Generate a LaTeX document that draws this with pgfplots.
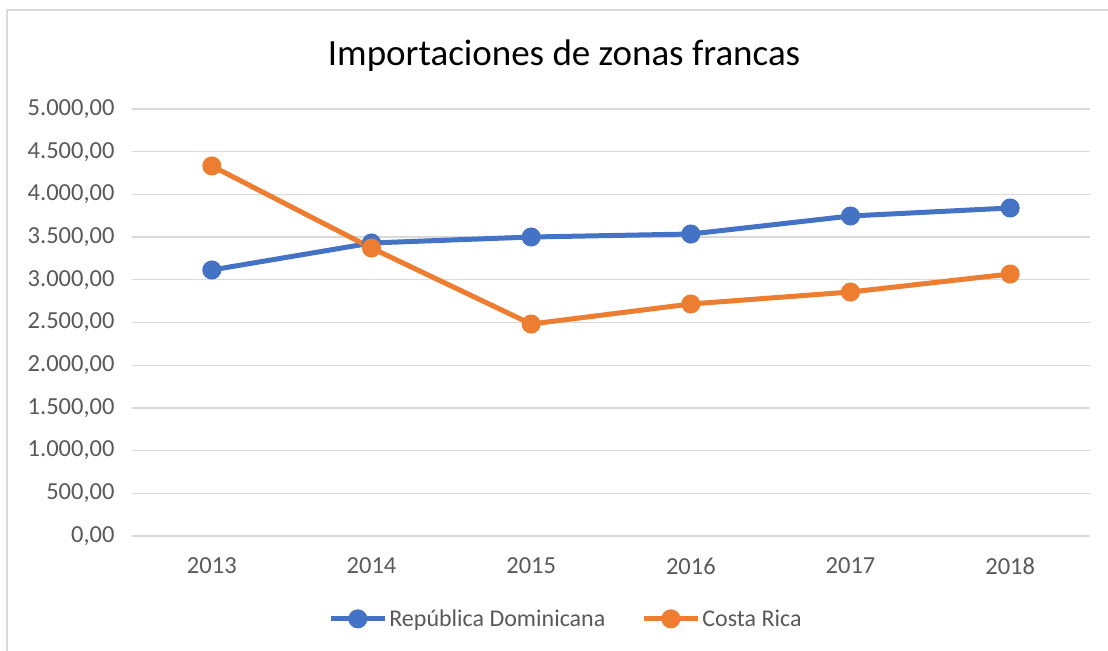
\documentclass[border=0pt]{standalone}
\usepackage{pgfplots}
\pgfplotsset{compat=1.18}
\usepackage{fontspec}
\setmainfont{Carlito}

\definecolor{rdblue}{HTML}{4472C4}
\definecolor{crorange}{HTML}{ED7D31}
\definecolor{txtgray}{HTML}{595959}
\definecolor{gridgray}{HTML}{D9D9D9}

\begin{document}
\begin{tikzpicture}
\useasboundingbox (0,0) rectangle (1108bp,651bp);
\draw[gridgray, line width=1.5bp] (7bp,0) -- (7bp,641bp) -- (1108bp,641bp);
\begin{axis}[
    at={(132bp,115bp)}, anchor=south west,
    width=958bp, height=427bp, scale only axis,
    xmin=-0.5, xmax=5.5,
    ymin=0, ymax=5000,
    xtick={0,...,5},
    xticklabels={2013,2014,2015,2016,2017,2018},
    ytick={0,500,...,5000},
    axis line style={draw=none},
    major tick length=0pt,
    ymajorgrids=true,
    grid style={gridgray, line width=1.3bp},
    tick label style={font=\fontsize{24.5bp}{28bp}\selectfont, text=txtgray},
    yticklabel style={xshift=-14bp},
    xticklabel style={yshift=-18bp},
    /pgf/number format/.cd, fixed, fixed zerofill, precision=2, use comma, 1000 sep={.}, assume math mode=true,
    /pgfplots/.cd,
    title={Importaciones de zonas francas},
    title style={at={(0.451,1)}, anchor=center, yshift=47bp,
        font=\fontsize{37bp}{42bp}\selectfont},
    legend columns=2,
    legend style={at={(0.453,-0.194)}, anchor=center, draw=none,
        font=\fontsize{24bp}{28bp}\selectfont, text=txtgray,
        /tikz/every even column/.append style={column sep=34bp}},
    legend image code/.code={
        \draw[#1, mark repeat=2, mark phase=2] plot coordinates {(0bp,0bp) (27bp,0bp) (54bp,0bp)};
    },
    every axis plot/.append style={line width=5bp, mark=*, mark size=7bp},
]
\addplot[rdblue, mark options={fill=rdblue, draw=rdblue}] coordinates {
    (0,3115) (1,3431) (2,3501) (3,3536) (4,3747) (5,3841)
};
\addlegendentry{República Dominicana}
\addplot[crorange, mark options={fill=crorange, draw=crorange}] coordinates {
    (0,4333) (1,3372) (2,2482) (3,2717) (4,2857) (5,3068)
};
\addlegendentry{Costa Rica}
\end{axis}
\end{tikzpicture}
\end{document}
